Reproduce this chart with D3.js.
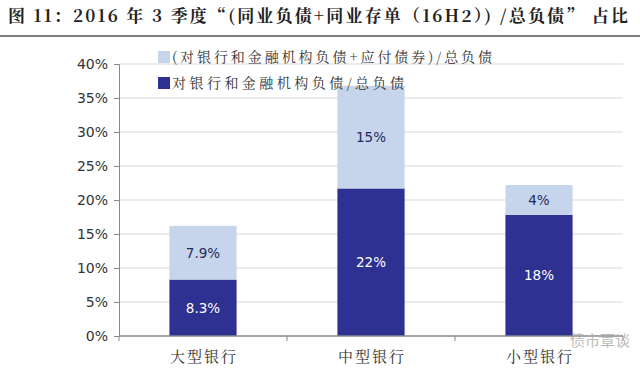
<!DOCTYPE html>
<html>
<head>
<meta charset="utf-8">
<script src="https://cdn.jsdelivr.net/npm/d3@7"></script>
<style>
  body { margin: 0; background: #fff; }
  svg { display: block; }
</style>
</head>
<body>
<div id="chart"></div>
<script>
var categories = ["大型银行", "中型银行", "小型银行"];
var bankLiab = [8.3, 21.7, 17.8];      // 对银行和金融机构负债/总负债
var bondLiab = [7.9, 15.1, 4.4];       // 应付债券部分
var bankLabels = ["8.3%", "22%", "18%"];
var bondLabels = ["7.9%", "15%", "4%"];
var yTicks = [0, 5, 10, 15, 20, 25, 30, 35, 40];
var legendNames = ["(对银行和金融机构负债+应付债券)/总负债", "对银行和金融机构负债/总负债"];
var colors = ["#c6d5ec", "#2e3192"];

var W = 640, H = 371;
var margin = {left: 119, right: 17, top: 64, bottom: 35};
var serif = "'Noto Serif CJK SC', 'Noto Sans CJK SC', serif";
var sans = "Verdana, 'DejaVu Sans', sans-serif";

var svg = d3.select("#chart").append("svg").attr("width", W).attr("height", H);

// title
svg.append("text")
    .attr("x", 8).attr("y", 22)
    .attr("textLength", 620).attr("lengthAdjust", "spacing")
    .style("font-family", serif)
    .style("font-weight", "bold").style("font-size", "17px").style("fill", "#222")
    .text("图 11：2016 年 3 季度“(同业负债+同业存单（16H2）) /总负债” 占比");
svg.append("line").attr("x1", 0).attr("x2", W).attr("y1", 36).attr("y2", 36)
    .style("stroke", "#555").style("stroke-width", 1.5);

var x = d3.scaleBand().domain(categories)
    .range([margin.left, W - margin.right]).paddingInner(0.6).paddingOuter(0.3);
var y = d3.scaleLinear().domain([0, 40]).range([H - margin.bottom, margin.top]);

// grid
svg.append("g").selectAll("line").data(yTicks.slice(1)).enter().append("line")
    .attr("x1", margin.left).attr("x2", W - margin.right)
    .attr("y1", function(d) { return y(d); }).attr("y2", function(d) { return y(d); })
    .style("stroke", "#d9d9d9").style("stroke-width", 1);

// bars
var g = svg.append("g");
categories.forEach(function(c, i) {
    g.append("rect").attr("x", x(c)).attr("width", x.bandwidth())
        .attr("y", y(bankLiab[i])).attr("height", y(0) - y(bankLiab[i]))
        .attr("fill", colors[1]);
    g.append("rect").attr("x", x(c)).attr("width", x.bandwidth())
        .attr("y", y(bankLiab[i] + bondLiab[i])).attr("height", y(0) - y(bondLiab[i]))
        .attr("fill", colors[0]);
    g.append("text").attr("x", x(c) + x.bandwidth() / 2).attr("y", y(bankLiab[i] / 2) + 5)
        .attr("text-anchor", "middle").style("fill", "#fff")
        .style("font-family", sans).style("font-size", "13.5px")
        .text(bankLabels[i]);
    g.append("text").attr("x", x(c) + x.bandwidth() / 2).attr("y", y(bankLiab[i] + bondLiab[i] / 2) + 5)
        .attr("text-anchor", "middle").style("fill", "#1f2a5c")
        .style("font-family", sans).style("font-size", "13.5px")
        .text(bondLabels[i]);
});

// y axis
var yAxis = svg.append("g").attr("transform", "translate(" + margin.left + ",0)")
    .call(d3.axisLeft(y).tickValues(yTicks).tickSize(5).tickPadding(6)
        .tickFormat(function(d) { return d + "%"; }));
yAxis.select(".domain").style("stroke", "#888");
yAxis.selectAll(".tick line").style("stroke", "#888");
yAxis.selectAll("text").style("font-family", sans)
    .style("font-size", "14px").style("fill", "#333");

// x axis
var boundaries = [margin.left].concat(categories.map(function(c) {
    return x(c) + x.bandwidth() + x.step() * x.paddingInner() / 2;
}));
var xAxis = svg.append("g");
xAxis.append("line").attr("x1", margin.left).attr("x2", W - margin.right)
    .attr("y1", y(0)).attr("y2", y(0)).style("stroke", "#888").style("stroke-width", 1.5);
xAxis.selectAll(".tk").data(boundaries).enter().append("line")
    .attr("x1", function(d) { return d; }).attr("x2", function(d) { return d; })
    .attr("y1", y(0)).attr("y2", y(0) + 5).style("stroke", "#888");
xAxis.selectAll(".lb").data(categories).enter().append("text")
    .attr("x", function(d) { return x(d) + x.bandwidth() / 2 - 33; }).attr("y", y(0) + 26)
    .attr("textLength", 66).attr("lengthAdjust", "spacing")
    .style("font-family", serif)
    .style("font-size", "15px").style("fill", "#333")
    .text(function(d) { return d; });

// legend
var legendLen = [320, 232];
var leg = svg.append("g");
legendNames.forEach(function(n, i) {
    var ly = 58 + i * 26;
    leg.append("rect").attr("x", 158).attr("y", ly - 7).attr("width", 12).attr("height", 12)
        .attr("fill", colors[i]);
    leg.append("text").attr("x", 172).attr("y", ly + 4)
        .attr("textLength", legendLen[i]).attr("lengthAdjust", "spacing")
        .style("font-family", serif)
        .style("font-size", "14px").style("fill", "#333")
        .text(n);
});

// watermark
svg.append("text").attr("x", 600).attr("y", 346).attr("text-anchor", "middle")
    .style("font-family", "'Noto Sans CJK SC', sans-serif").style("font-size", "15px")
    .style("fill", "#aaa").style("opacity", 0.8)
    .text("债市覃谈");
</script>
</body>
</html>
